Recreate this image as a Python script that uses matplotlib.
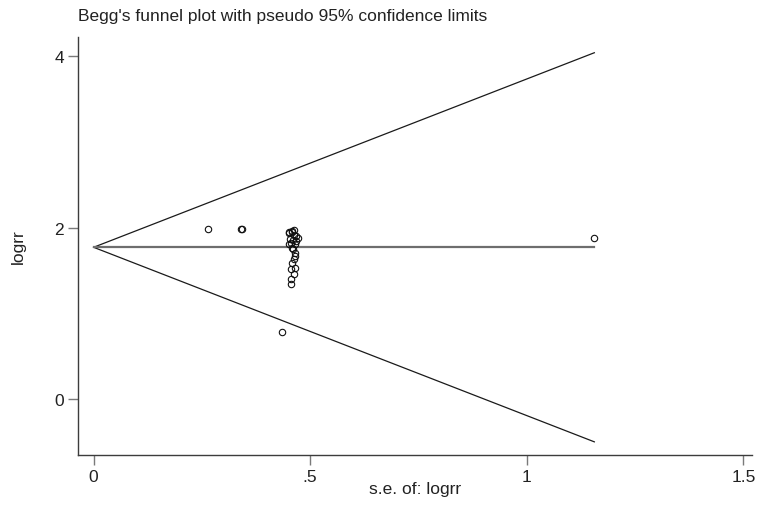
import matplotlib
matplotlib.use("Agg")
import matplotlib.pyplot as plt
import numpy as np

# Study-level standard errors and log risk ratios
se_logrr = [0.263, 0.341, 0.342, 1.156, 0.435,
            0.450, 0.458, 0.463, 0.468, 0.471, 0.453, 0.460, 0.456, 0.450,
            0.466, 0.458, 0.461, 0.465, 0.466, 0.463, 0.458, 0.456, 0.466,
            0.463, 0.455, 0.455, 0.462, 0.459, 0.452, 0.467]
logrr = [1.984, 1.984, 1.982, 1.884, 0.779,
         1.934, 1.961, 1.973, 1.903, 1.884, 1.872, 1.857, 1.826, 1.806,
         1.806, 1.767, 1.748, 1.709, 1.671, 1.632, 1.593, 1.523, 1.535,
         1.465, 1.407, 1.349, 1.915, 1.945, 1.950, 1.840]

pooled = 1.771          # fixed-effect pooled log risk ratio
z95 = 1.96

x_ticks = [0, 0.5, 1, 1.5]
x_ticklabels = ["0", ".5", "1", "1.5"]
y_ticks = [0, 2, 4]
y_ticklabels = ["0", "2", "4"]

plt.rcParams["font.family"] = ["Liberation Sans", "DejaVu Sans"]
FS = 12.5
TXT = "#222222"

fig = plt.figure(figsize=(7.6, 5.06), dpi=100)
ax = fig.add_axes([78 / 760, 1 - 456 / 506, (752 - 78) / 760, (456 - 38) / 506])

se_max = max(se_logrr)
se_line = np.array([0.0, se_max])

# pseudo 95% confidence limits and the pooled estimate
ax.plot(se_line, pooled + z95 * se_line, color="#1a1a1a", lw=0.9)
ax.plot(se_line, pooled - z95 * se_line, color="#1a1a1a", lw=0.9)
ax.plot(se_line, [pooled, pooled], color="#6e6e6e", lw=1.6)

ax.plot(se_logrr, logrr, linestyle="none", marker="o", markersize=4.6,
        markerfacecolor="none", markeredgecolor="#111111", markeredgewidth=0.8)

ax.set_xlim(-0.036, 1.52)
ax.set_ylim(-0.648, 4.22)

ax.set_xticks(x_ticks)
ax.set_xticklabels(x_ticklabels)
ax.set_yticks(y_ticks)
ax.set_yticklabels(y_ticklabels)

for side in ("top", "right"):
    ax.spines[side].set_visible(False)
for side in ("left", "bottom"):
    ax.spines[side].set_color("#3c3c3c")
    ax.spines[side].set_linewidth(1.0)

ax.tick_params(axis="both", direction="out", length=7, width=1.0,
               color="#7a7a7a", labelsize=FS, labelcolor=TXT, pad=3)

ax.set_xlabel("s.e. of: logrr", fontsize=FS, color=TXT, va="center")
ax.xaxis.set_label_coords(0.5, (456 - 490) / 418)
ax.set_ylabel("logrr", fontsize=FS, color=TXT, va="center")
ax.yaxis.set_label_coords((18 - 78) / 674, 0.5)

fig.text(78 / 760, 1 - 17 / 506, "Begg's funnel plot with pseudo 95% confidence limits",
         fontsize=FS, color=TXT, ha="left", va="center")

fig.savefig("out.png", dpi=100, facecolor="white")
